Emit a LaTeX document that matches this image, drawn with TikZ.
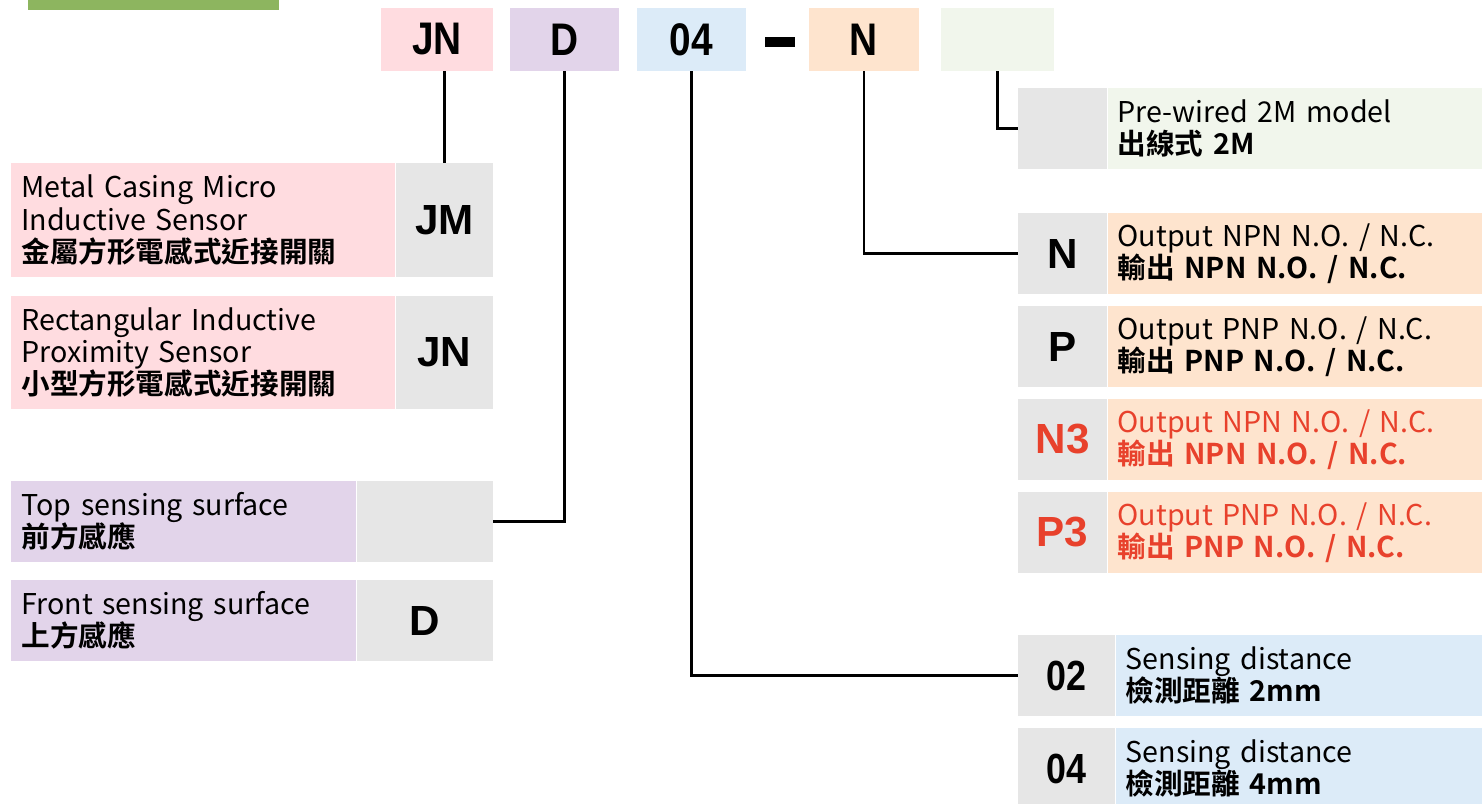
\documentclass[tikz,border=0pt]{standalone}
\usepackage{fontspec}
\setmainfont{Noto Sans CJK TC}[BoldFont={* Bold}]
\newfontfamily\keyfont{Liberation Sans}
\usetikzlibrary{positioning}
\definecolor{grnbar}{RGB}{141,181,95}
\definecolor{pinkc}{RGB}{255,220,224}
\definecolor{lilac}{RGB}{226,212,234}
\definecolor{skyc}{RGB}{220,235,248}
\definecolor{peach}{RGB}{254,228,206}
\definecolor{mintc}{RGB}{241,246,236}
\definecolor{keygray}{RGB}{230,230,230}
\definecolor{warnred}{RGB}{232,65,44}
\newcommand{\descfont}{\fontsize{16.3}{18.4}\selectfont}
\newcommand{\narrow}[1]{\scalebox{0.85}[1]{#1}}

\begin{document}
\begin{tikzpicture}[x=0.02cm,y=-0.02cm,
    topcode/.style={inner sep=0,minimum height=1.26cm,font=\keyfont\bfseries\fontsize{26}{26}\selectfont},
    key/.style={fill=keygray,inner sep=0,font=\keyfont\bfseries\fontsize{24}{24}\selectfont},
    desc/.style={inner xsep=0.2cm,inner ysep=0,align=left,font=\descfont},
    wire/.style={line width=1.6pt}]
\useasboundingbox (0,0) rectangle (1482,804);

% Title bar (cut off)
\fill[grnbar] (28,-10) rectangle (279,10);

% Model code
\node[topcode,fill=pinkc,minimum width=2.24cm] (jnTop) at (437,39.5) {\narrow{JN}};
\node[topcode,fill=lilac,minimum width=2.18cm] (dTop) at (564.5,39.5) {\narrow{D}};
\node[topcode,fill=skyc,minimum width=2.18cm] (distTop) at (691.5,39.5) {\narrow{04}};
\node[fill=black,inner sep=0,minimum width=0.6cm,minimum height=0.2cm] (dash) at (780,42) {};
\node[topcode,fill=peach,minimum width=2.2cm] (outTop) at (864,39.5) {\narrow{N}};
\node[topcode,fill=mintc,minimum width=2.26cm] (wireTop) at (997.5,39.5) {};

% Series
\node[key,minimum width=1.94cm,minimum height=2.28cm] (jmKey) at (444.5,220) {JM};
\node[desc,fill=pinkc,minimum width=7.68cm,minimum height=2.28cm,text width=7.28cm,left=0pt of jmKey] (jmDesc)
  {Metal Casing Micro\\Inductive Sensor\\\textbf{金屬方形電感式近接開關}};
\node[key,minimum width=1.94cm,minimum height=2.26cm] (jnKey) at (444.5,352.5) {JN};
\node[desc,fill=pinkc,minimum width=7.68cm,minimum height=2.26cm,text width=7.28cm,left=0pt of jnKey] (jnDesc)
  {Rectangular Inductive\\Proximity Sensor\\\textbf{小型方形電感式近接開關}};

% Sensing surface
\node[key,minimum width=2.72cm,minimum height=1.62cm] (topKey) at (425,521.5) {};
\node[desc,fill=lilac,minimum width=6.9cm,minimum height=1.62cm,text width=6.5cm,left=0pt of topKey] (topDesc)
  {Top sensing surface\\\textbf{前方感應}};
\node[key,minimum width=2.72cm,minimum height=1.62cm] (frontKey) at (425,620.5) {D};
\node[desc,fill=lilac,minimum width=6.9cm,minimum height=1.62cm,text width=6.5cm,left=0pt of frontKey] (frontDesc)
  {Front sensing surface\\\textbf{上方感應}};

% Cable
\node[key,minimum width=1.78cm,minimum height=1.62cm] (wireKey) at (1062.5,128.5) {};
\node[desc,fill=mintc,minimum width=7.48cm,minimum height=1.62cm,text width=7.08cm,right=0pt of wireKey] (wireDesc)
  {Pre-wired 2M model\\\textbf{出線式 2M}};

% Output
\node[key,minimum width=1.78cm,minimum height=1.62cm] (nKey) at (1062.5,253.5) {N};
\node[desc,fill=peach,minimum width=7.48cm,minimum height=1.62cm,text width=7.08cm,right=0pt of nKey] (nDesc)
  {Output NPN N.O. / N.C.\\\textbf{輸出 NPN N.O. / N.C.}};
\node[key,minimum width=1.78cm,minimum height=1.62cm] (pKey) at (1062.5,346.5) {P};
\node[desc,fill=peach,minimum width=7.48cm,minimum height=1.62cm,text width=7.08cm,right=0pt of pKey] (pDesc)
  {Output PNP N.O. / N.C.\\\textbf{輸出 PNP N.O. / N.C.}};
\node[key,text=warnred,minimum width=1.78cm,minimum height=1.62cm] (nthreeKey) at (1062.5,439.5) {N3};
\node[desc,text=warnred,fill=peach,minimum width=7.48cm,minimum height=1.62cm,text width=7.08cm,right=0pt of nthreeKey] (nthreeDesc)
  {Output NPN N.O. / N.C.\\\textbf{輸出 NPN N.O. / N.C.}};
\node[key,text=warnred,minimum width=1.78cm,minimum height=1.62cm] (pthreeKey) at (1062.5,532.5) {P3};
\node[desc,text=warnred,fill=peach,minimum width=7.48cm,minimum height=1.62cm,text width=7.08cm,right=0pt of pthreeKey] (pthreeDesc)
  {Output PNP N.O. / N.C.\\\textbf{輸出 PNP N.O. / N.C.}};

% Sensing distance
\node[key,minimum width=1.94cm,minimum height=1.62cm] (twoKey) at (1066.5,675.5) {\narrow{02}};
\node[desc,fill=skyc,minimum width=7.32cm,minimum height=1.62cm,text width=6.92cm,right=0pt of twoKey] (twoDesc)
  {Sensing distance\\\textbf{檢測距離 2mm}};
\node[key,minimum width=1.94cm,minimum height=1.62cm] (fourKey) at (1066.5,768.5) {\narrow{04}};
\node[desc,fill=skyc,minimum width=7.32cm,minimum height=1.62cm,text width=6.92cm,right=0pt of fourKey] (fourDesc)
  {Sensing distance\\\textbf{檢測距離 4mm}};

% Connections
\draw[wire] (jmKey.north) -- (jmKey.north |- jnTop.south);
\draw[wire] (dTop.south) |- (topKey.east);
\draw[wire] (distTop.south) |- (twoKey.west);
\draw[wire] (outTop.south) |- (nKey.west);
\draw[wire] (wireTop.south) |- (wireKey.west);
\end{tikzpicture}
\end{document}
